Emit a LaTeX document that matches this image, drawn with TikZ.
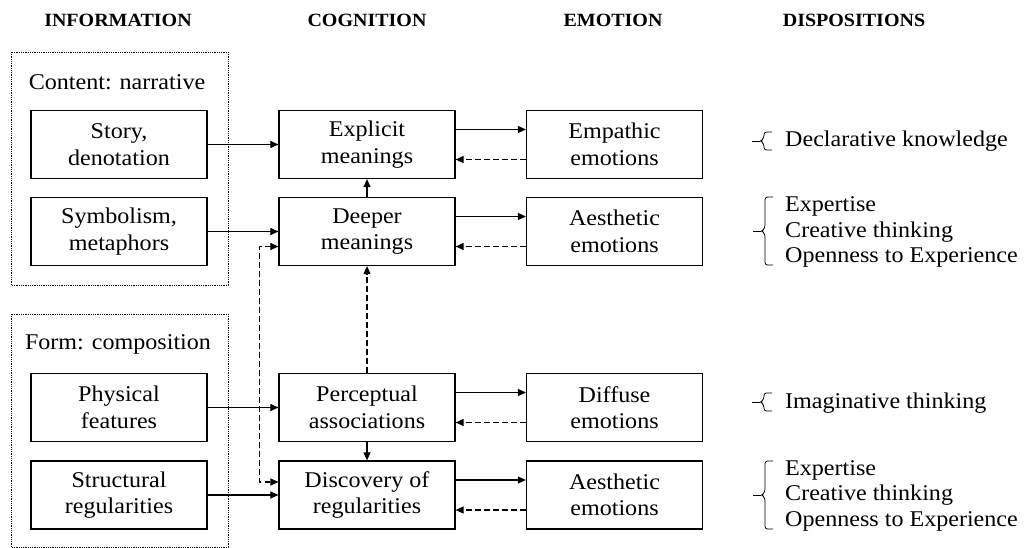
\documentclass[tikz,border=0pt]{standalone}
\usepackage{fontspec}
\setmainfont{Liberation Serif}[FakeStretch=1.07]
\usetikzlibrary{arrows.meta,calc}
\newcommand\mybrace[3]{% x of vertical, y center, half height
  \draw[bracestyle, rounded corners=2.5pt] (#1+8,#2-#3) -- (#1,#2-#3) -- (#1,#2-3) -- (#1-3.5,#2) -- (#1,#2+3) -- (#1,#2+#3) -- (#1+8,#2+#3);
  \draw[bracestyle] (#1-12,#2) -- (#1-4,#2);}
\begin{document}
\begin{tikzpicture}[x=1pt,y=-1pt,
  box/.style={draw, line width=1.2pt, minimum width=176pt, minimum height=68pt, align=center,
    font=\fontsize{22.5}{26.5}\selectfont, inner sep=0pt},
  grp/.style={draw, densely dotted, line width=0.8pt},
  grplabel/.style={font=\fontsize{22.5}{26}\selectfont, inner sep=0pt},
  hdr/.style={font=\fontsize{18.7}{22}\selectfont\bfseries, inner sep=0pt},
  arr/.style={-{Triangle[length=8pt,width=7pt]}, line width=1.1pt},
  darr/.style={arr, dash pattern=on 5.5pt off 3.5pt},
  dboth/.style={{Triangle[length=8pt,width=7pt]}-{Triangle[length=8pt,width=7pt]}, line width=1.1pt, dash pattern=on 5.5pt off 3.5pt},
  disp/.style={anchor=base west, font=\fontsize{22.5}{26}\selectfont, inner sep=0pt},
  bracestyle/.style={line width=0.8pt}]
\useasboundingbox (0,0) rectangle (1027,548);

% headers
\node[hdr] (h1) at (118,20) {INFORMATION};
\node[hdr] (h2) at (367,20) {COGNITION};
\node[hdr] (h3) at (613,20) {EMOTION};
\node[hdr] (h4) at (854,20) {DISPOSITIONS};

% groups
\draw[grp] (11,52) rectangle (228,285);
\draw[grp] (11,314) rectangle (228,547);
\node[grplabel] (gl1) at (117,82) {Content: narrative};
\node[grplabel] (gl2) at (118,344) {Form: composition};

% information
\node[box] (story) at (119,144.5) {Story,\\denotation};
\node[box] (symb) at (119,231.5) {Symbolism,\\metaphors};
\node[box] (phys) at (119,407.5) {Physical\\features};
\node[box] (struc) at (119,495) {Structural\\regularities};

% cognition
\node[box] (expl) at (367,144.5) {Explicit\\meanings};
\node[box] (deep) at (367,231.5) {Deeper\\meanings};
\node[box] (perc) at (367,407.5) {Perceptual\\associations};
\node[box] (disc) at (367,495) {Discovery of\\regularities};

% emotion
\node[box] (emp) at (614.5,144.5) {Empathic\\emotions};
\node[box] (aes1) at (614.5,231.5) {Aesthetic\\emotions};
\node[box] (diff) at (614.5,407.5) {Diffuse\\emotions};
\node[box] (aes2) at (614.5,495) {Aesthetic\\emotions};

% information -> cognition
\draw[arr] (story.east) -- (expl.west);
\draw[arr] (symb.east) -- (deep.west);
\draw[arr] (phys.east) -- (perc.west);
\draw[arr] (struc.east) -- (disc.west);

% cognition internal
\draw[arr] (deep.north) -- (expl.south);
\draw[darr] (perc.north) -- (deep.south);
\draw[arr] (perc.south) -- (disc.north);
\draw[dboth] ($(deep.west)+(0,15)$) -- ++(-19,0) |- ($(disc.west)+(0,-13)$);

% cognition <-> emotion
\foreach \c/\e in {expl/emp, deep/aes1, perc/diff, disc/aes2}{
  \draw[arr] ($(\c.east)+(0,-15)$) -- ($(\e.west)+(0,-15)$);
  \draw[darr] ($(\e.west)+(0,15)$) -- ($(\c.east)+(0,15)$);
}

% dispositions
\node[disp] (d1) at (785,146.5) {Declarative knowledge};
\node[disp] (d2a) at (785,211.5) {Expertise};
\node[disp] (d2b) at (785,237) {Creative thinking};
\node[disp] (d2c) at (785,262.5) {Openness to Experience};
\node[disp] (d3) at (785,408) {Imaginative thinking};
\node[disp] (d4a) at (785,475) {Expertise};
\node[disp] (d4b) at (785,500.5) {Creative thinking};
\node[disp] (d4c) at (785,526) {Openness to Experience};

\mybrace{764}{141}{9}
\mybrace{765}{231}{34}
\mybrace{764}{402}{9}
\mybrace{765}{495}{34}
\end{tikzpicture}
\end{document}
